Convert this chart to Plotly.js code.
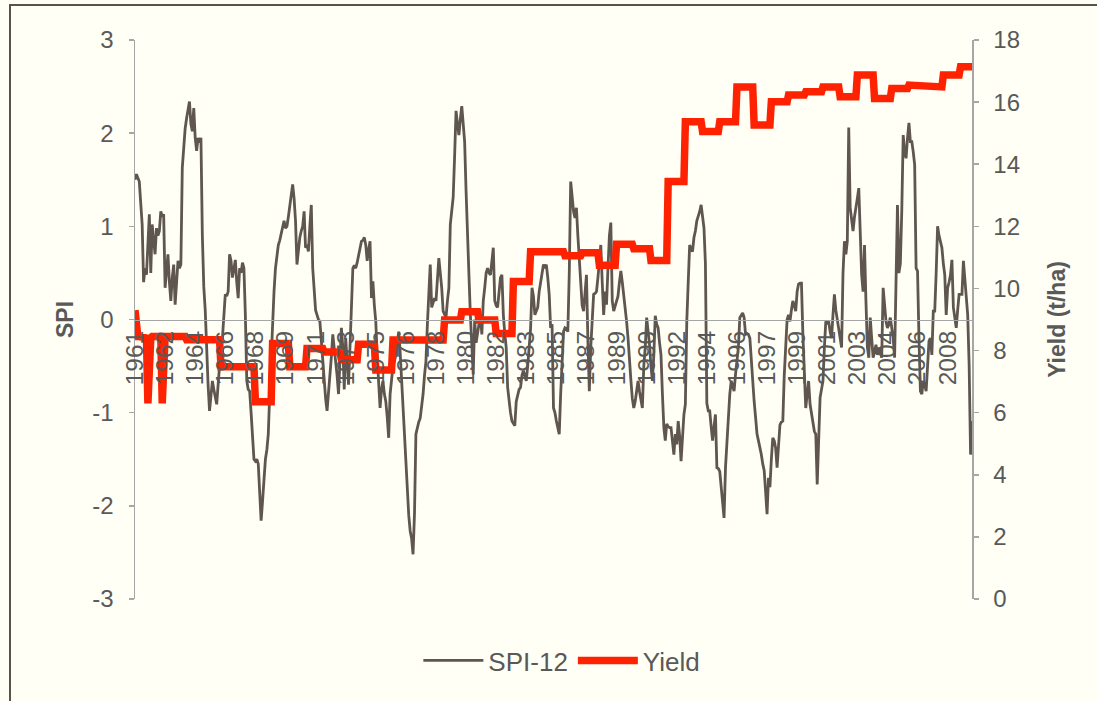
<!DOCTYPE html>
<html>
<head>
<meta charset="utf-8">
<script src="https://cdn.plot.ly/plotly-3.0.1.min.js"></script>
<style>
  html, body { margin:0; padding:0; background:#fffff5; overflow:hidden; }
  #frame { position:absolute; left:9px; top:4px; width:1100px; height:710px; border:2px solid #5b524b; }
  #chart { position:absolute; left:0; top:0; width:1097px; height:701px; }
</style>
</head>
<body>
<div id="frame"></div>
<div id="chart"></div>
<script>
// Monthly SPI-12, Jan 1961 .. Sep 2009 (one row per year)
const spi12 = [
  1.50, 1.56, 1.52, 1.48, 1.25, 1.02, 0.40, 0.55, 0.48, 0.80, 1.13, 0.50,   // 1961
  1.02, 0.85, 0.70, 0.98, 0.90, 0.95, 1.16, 1.10, 1.13, 0.34, 0.50, 0.70,   // 1962
  0.40, 0.20, 0.45, 0.59, 0.16, 0.45, 0.63, 0.55, 0.59, 1.63, 1.85, 2.05,   // 1963
  2.16, 2.25, 2.34, 2.10, 2.02, 2.27, 1.95, 1.81, 1.95, 1.90, 1.95, 0.90,   // 1964
  0.35, 0.10, -0.35, -0.70, -0.98, -0.80, -0.66, -0.75, -0.85, -0.91, -0.70, -0.45, // 1965
  -0.30, -0.20, 0.05, 0.27, 0.25, 0.30, 0.70, 0.63, 0.45, 0.55, 0.64, 0.40, // 1966
  0.23, 0.55, 0.50, 0.61, 0.55, 0.05, -0.66, -0.75, -0.77, -1.00, -1.30, -1.50, // 1967
  -1.52, -1.50, -1.55, -1.80, -2.16, -1.95, -1.66, -1.50, -1.40, -1.23, -0.80, -0.40, // 1968
  0.00, 0.30, 0.55, 0.70, 0.80, 0.85, 0.91, 1.00, 1.06, 0.98, 1.00, 1.10,   // 1969
  1.23, 1.35, 1.45, 1.30, 1.06, 0.59, 0.75, 0.88, 0.95, 1.00, 1.16, 0.77,   // 1970
  0.80, 0.73, 1.00, 1.23, 0.55, 0.30, 0.10, 0.05, 0.00, -0.02, -0.25, -0.45, // 1971
  -0.70, -0.85, -0.98, -0.80, -0.66, -0.40, -0.16, -0.30, -0.41, -0.60, -0.80, -0.40, // 1972
  -0.09, -0.30, -0.75, -0.20, -0.40, -0.70, -0.30, 0.20, 0.55, 0.58, 0.55, 0.61, // 1973
  0.70, 0.78, 0.84, 0.85, 0.88, 0.80, 0.63, 0.75, 0.84, 0.23, 0.41, 0.15,   // 1974
  -0.02, -0.40, -0.70, -0.95, -0.75, -0.66, -0.80, -0.88, -1.05, -1.27, -0.80, -0.60, // 1975
  -0.50, -0.45, -0.38, -0.25, -0.13, -0.35, -0.66, -0.85, -1.13, -1.50, -1.91, -2.10, // 1976
  -2.27, -2.35, -2.52, -2.09, -1.23, -1.15, -1.10, -1.06, -0.95, -0.80, -0.60, -0.45, // 1977
  -0.05, 0.25, 0.59, 0.13, 0.18, 0.23, 0.20, 0.40, 0.66, 0.50, 0.34, 0.09,  // 1978
  0.05, 0.02, 0.20, 0.34, 1.02, 1.20, 1.31, 1.75, 2.24, 2.10, 1.98, 2.15,   // 1979
  2.29, 2.10, 1.91, 1.38, 0.80, 0.48, 0.05, -0.34, -0.59, 0.00, -0.25, -0.15, // 1980
  -0.05, 0.05, -0.16, 0.20, 0.34, 0.50, 0.55, 0.50, 0.48, 0.60, 0.77, 0.20, // 1981
  0.15, 0.13, 0.30, 0.45, 0.48, 0.05, -0.15, -0.30, -0.73, -0.90, -1.00, -1.09, // 1982
  -1.12, -1.14, -0.88, -0.80, -0.75, -0.73, -0.60, -0.55, -0.60, -0.66, -0.50, -0.30, // 1983
  -0.10, 0.34, 0.25, 0.05, 0.10, 0.13, 0.30, 0.40, 0.48, 0.59, 0.55, 0.59,  // 1984
  0.45, 0.27, -0.09, -0.05, -0.95, -1.00, -1.09, -1.15, -1.23, -0.80, -0.48, -0.13, // 1985
  -0.09, -0.10, -0.13, 0.50, 1.48, 1.30, 1.16, 1.09, 1.20, 0.90, 0.60, 0.30, // 1986
  0.15, 0.09, 0.30, 0.48, -0.23, -0.77, -0.30, 0.05, 0.27, 0.28, 0.30, 0.45, // 1987
  0.60, 0.80, 0.40, 0.05, 0.30, 0.16, 0.55, 0.90, 1.04, 0.20, 0.09, 0.15,   // 1988
  0.20, 0.25, 0.40, 0.52, 0.40, 0.27, 0.10, -0.02, -0.20, -0.38, -0.65, -0.85, // 1989
  -0.95, -0.88, -0.75, -0.66, -0.77, -0.85, -0.95, -0.50, -0.30, 0.02, -0.10, -0.27, // 1990
  -0.50, -0.66, -0.38, 0.04, -0.05, -0.09, -0.25, -0.38, -0.80, -1.16, -1.30, -1.12, // 1991
  -1.15, -1.16, -1.16, -1.35, -1.45, -1.23, -1.34, -1.09, -1.25, -1.52, -1.20, -1.02, // 1992
  -0.91, -0.02, 0.40, 0.80, 0.75, 0.73, 0.88, 0.95, 1.06, 1.10, 1.16, 1.23, // 1993
  1.10, 0.98, 0.60, -0.90, -0.98, -0.98, -1.15, -1.30, -1.15, -1.02, -1.59, -1.60, // 1994
  -1.63, -1.80, -1.95, -2.13, -1.59, -1.30, -1.09, -0.80, -0.66, -0.72, -0.77, -0.59, // 1995
  -0.45, -0.30, 0.02, 0.05, 0.07, 0.02, -0.16, -0.15, -0.16, -0.20, -0.45, -0.66, // 1996
  -0.88, -1.05, -1.23, -1.30, -1.36, -1.45, -1.55, -1.62, -1.85, -2.09, -1.70, -1.80, // 1997
  -1.50, -1.27, -1.30, -1.38, -1.59, -1.35, -1.13, -1.10, -1.09, -0.60, -0.23, 0.00, // 1998
  0.05, -0.02, 0.10, 0.20, 0.15, 0.09, 0.30, 0.38, 0.39, 0.39, -0.16, -0.59, // 1999
  -0.95, -0.80, -0.66, -0.91, -1.00, -1.13, -1.20, -1.23, -1.77, -1.30, -0.84, -0.75, // 2000
  -0.66, -0.30, -0.02, -0.05, -0.02, -0.13, -0.20, 0.05, 0.27, 0.10, -0.02, -0.10, // 2001
  -0.20, -0.30, 0.50, 0.84, 0.70, 0.84, 2.06, 1.20, 1.10, 0.95, 1.10, 1.23, // 2002
  1.30, 1.41, 0.90, 0.48, 0.30, 0.80, 0.20, -0.30, -0.41, 0.02, -0.20, -0.41, // 2003
  -0.35, -0.27, -0.38, -0.30, -0.35, -0.41, 0.34, 0.10, -0.02, -0.09, -0.05, 0.02, // 2004
  -0.10, -0.20, -0.41, 0.50, 1.23, 0.50, 0.60, 1.16, 1.98, 1.80, 1.73, 1.95, // 2005
  2.11, 1.91, 1.91, 1.80, 1.66, 0.55, 0.52, -0.20, -0.77, -0.80, -0.66, -0.70, // 2006
  -0.77, -0.50, -0.23, -0.20, -0.38, 0.09, 0.09, 0.50, 1.00, 0.90, 0.84, 0.77, // 2007
  0.60, 0.48, 0.05, 0.34, 0.40, 0.48, 0.64, 0.13, 0.02, -0.09, 0.10, 0.27,  // 2008
  0.27, 0.27, 0.63, 0.45, 0.27, 0.05, -0.48, -1.45, -1.09                   // 2009
];

// Yield (t/ha): monthly for 1961-1962, then one value per year 1963-2009
const yieldEarly = [
  9.30, 8.55, 8.45, 8.45, 8.45, 8.40, 8.40, 8.40, 8.40, 6.30, 8.40, 8.40,   // 1961
  8.45, 8.45, 8.45, 8.45, 8.45, 8.45, 8.45, 6.30, 8.45, 8.45, 8.45, 8.45    // 1962
];
const yieldAnnual = [
  8.45, 8.35, 8.35, 7.48, 7.48, 6.35, 8.23, 7.48, 8.07, 7.95,   // 1963-1972
  7.70, 8.20, 7.37, 8.34, 8.34, 8.34, 8.98, 9.25, 8.98, 8.55,   // 1973-1982
  10.22, 11.18, 11.18, 11.05, 11.15, 10.75, 11.42, 11.28, 10.90, 13.44, // 1983-1992
  15.37, 15.05, 15.37, 16.49, 15.26, 16.01, 16.23, 16.33, 16.49, 16.17, // 1993-2002
  16.87, 16.12, 16.44, 16.55, 16.49, 16.87, 17.14                  // 2003-2009
];

const startYear = 1961;
const tickYears = ['1961','1962','1964','1966','1968','1969','1971','1973','1975','1976',
  '1978','1980','1982','1983','1985','1987','1989','1990','1992','1994','1996','1997',
  '1999','2001','2003','2004','2006','2008'];
const spiTickText = ['-3','-2','-1','0','1','2','3'];
const spiTickVals = [-3,-2,-1,0,1,2,3];
const yieldTickText = ['0','2','4','6','8','10','12','14','16','18'];
const yieldTickVals = [0,2,4,6,8,10,12,14,16,18];

// month categories
const months = spi12.map((_, i) => {
  const y = startYear + Math.floor(i / 12), m = (i % 12) + 1;
  return y + '-' + String(m).padStart(2, '0');
});
// expand yield to monthly
const yieldMonthly = yieldEarly.slice();
yieldAnnual.forEach(v => { for (let k = 0; k < 12; k++) yieldMonthly.push(v); });
yieldMonthly.length = months.length;

const labelStep = 21;
const tickvals = tickYears.map((_, k) => months[k * labelStep]);

const txt = '#595959';
const axisCol = '#a6a6a6';
const fam = '"Liberation Sans", Arial, sans-serif';

const traces = [
  { x: months, y: spi12, name: 'SPI-12', type: 'scatter', mode: 'lines',
    line: { color: '#5f5650', width: 2.8 }, xaxis: 'x', yaxis: 'y', hoverinfo: 'skip' },
  { x: months, y: yieldMonthly, name: 'Yield', type: 'scatter', mode: 'lines',
    line: { color: '#ff2200', width: 7.5 }, xaxis: 'x', yaxis: 'y2', hoverinfo: 'skip' }
];

const layout = {
  width: 1097, height: 701,
  paper_bgcolor: 'rgba(0,0,0,0)', plot_bgcolor: 'rgba(0,0,0,0)',
  margin: { l: 135, r: 125, t: 40, b: 102, pad: 0 },
  font: { family: fam, color: txt, size: 24 },
  showlegend: true,
  legend: { orientation: 'h', x: 0.51, xanchor: 'center', y: -0.11, yanchor: 'middle',
    itemwidth: 60, font: { size: 26, color: txt }, bgcolor: 'rgba(0,0,0,0)' },
  xaxis: {
    type: 'category', range: [0, months.length - 1],
    anchor: 'free', position: 0.5,
    showline: true, linecolor: axisCol, linewidth: 1.5,
    showgrid: false, zeroline: false, ticks: '',
    tickmode: 'array', tickvals: tickvals, ticktext: tickYears,
    tickangle: -90, tickfont: { size: 24.5, color: txt }
  },
  yaxis: {
    range: [-3, 3], tickmode: 'array', tickvals: spiTickVals, ticktext: spiTickText,
    showline: true, linecolor: axisCol, linewidth: 1.5,
    ticks: 'outside', ticklen: 5, tickcolor: axisCol, tickwidth: 1.5,
    ticklabelstandoff: 10,
    showgrid: false, zeroline: false, tickfont: { size: 24, color: txt },
    title: { text: '<b>SPI</b>', font: { size: 23, color: txt }, standoff: 12 }
  },
  yaxis2: {
    range: [0, 18], overlaying: 'y', side: 'right',
    tickmode: 'array', tickvals: yieldTickVals, ticktext: yieldTickText,
    showline: true, linecolor: axisCol, linewidth: 1.5,
    ticks: 'outside', ticklen: 5, tickcolor: axisCol, tickwidth: 1.5,
    ticklabelstandoff: 10,
    showgrid: false, zeroline: false, tickfont: { size: 24, color: txt },
    title: { text: '<b>Yield (t/ha)</b>', font: { size: 23, color: txt }, standoff: 30 }
  }
};

Plotly.newPlot('chart', traces, layout, { staticPlot: true, displayModeBar: false });
</script>
</body>
</html>
